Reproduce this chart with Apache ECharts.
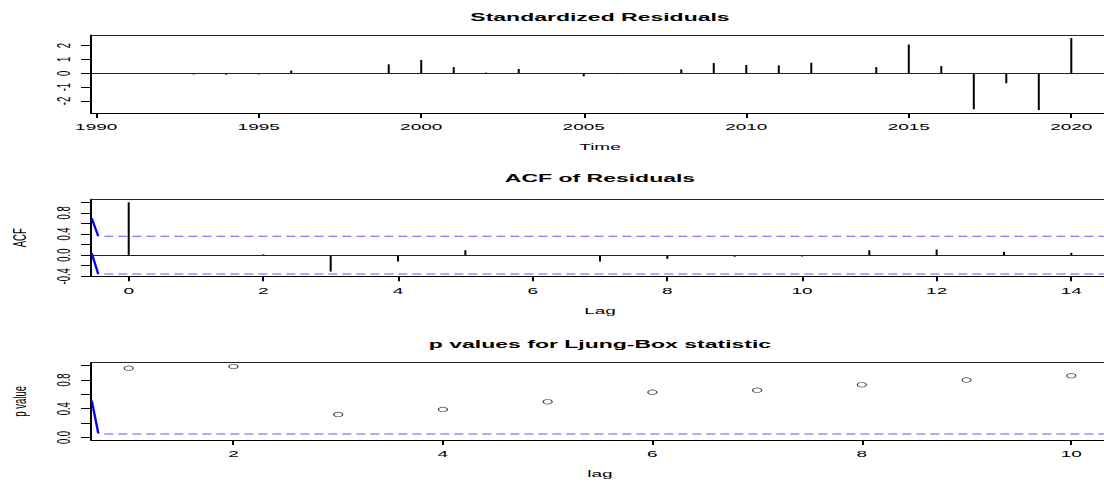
<!DOCTYPE html>
<html>
<head>
<meta charset="utf-8">
<script src="https://cdn.jsdelivr.net/npm/echarts@6/dist/echarts.min.js"></script>
<style>
html, body { margin: 0; padding: 0; background: #fff; overflow: hidden; width: 1104px; height: 482px; }
#wrap { width: 1104px; height: 482px; overflow: hidden; position: absolute; left: 0; top: 0; background: #fff; }
#chart { width: 580px; height: 482px; transform: scaleX(2); transform-origin: 0 0; }
</style>
</head>
<body>
<div id="wrap"><div id="chart"></div></div>
<script>
// ---------- data ----------
const years = [1991,1992,1993,1994,1995,1996,1997,1998,1999,2000,2001,2002,2003,2004,2005,2006,2007,2008,2009,2010,2011,2012,2013,2014,2015,2016,2017,2018,2019,2020];
const stdResiduals = [0.01,0.0,-0.08,-0.1,-0.08,0.2,0.0,0.01,0.65,0.96,0.45,0.05,0.31,-0.05,-0.22,-0.06,0.0,0.28,0.74,0.6,0.57,0.76,0.0,0.45,2.08,0.52,-2.6,-0.72,-2.66,2.55];
const timeTicks = [1990,1995,2000,2005,2010,2015,2020];
const residTicks = [-2,-1,0,1,2];

const acfLags = [0,1,2,3,4,5,6,7,8,9,10,11,12,13,14];
const acfValues = [1.0,-0.005,0.015,-0.31,-0.12,0.094,0.0,-0.12,-0.07,-0.03,-0.025,0.094,0.107,0.063,0.044];
const acfLagTicks = [0,2,4,6,8,10,12,14];
const acfTicks = [-0.4,-0.2,0,0.2,0.4,0.6,0.8,1.0];
const acfTickLabels = [-0.4,0,0.4,0.8];
const acfConfLimit = 0.358;
const acfBandFrom = -0.362;
const acfLeadUpper = [[-0.55, 0.70],[-0.452, 0.358]];
const acfLeadLower = [[-0.55, 0.038],[-0.452, -0.358]];

const lbLags = [1,2,3,4,5,6,7,8,9,10];
const lbPValues = [0.964,0.986,0.32,0.39,0.496,0.63,0.658,0.732,0.80,0.86];
const lbLagTicks = [2,4,6,8,10];
const pTicks = [0,0.2,0.4,0.6,0.8,1.0];
const pTickLabels = [0,0.4,0.8];
const pLevel = 0.05;
const pBandFrom = 0.767;
const pLead = [[0.647, 0.514],[0.71, 0.055]];

const titles = ['Standardized Residuals','ACF of Residuals','p values for Ljung-Box statistic'];

// ---------- layout / style ----------
const FONT = '"Liberation Sans", Arial, Helvetica, sans-serif';
const txt = { fontFamily: FONT, fontSize: 9.5, color: '#000' };
const GL = 45.5, GW = 509;
const grids = [
  { top: 35, height: 78 },
  { top: 199.3, height: 77 },
  { top: 362.7, height: 77.3 }
];
const xRanges = [[1989.84, 2021.16], [-0.56, 14.56], [0.64, 10.36]];
const yRanges = [[-2.87, 2.77], [-0.4, 1.057], [-0.035, 1.04]];

function fmt1(v){ return (Math.abs(v) < 1e-9 ? 0 : v).toFixed(1); }

function xAxisDef(i, ticks, name){
  return {
    type: 'value', gridIndex: i, position: 'bottom', min: xRanges[i][0], max: xRanges[i][1],
    name: name, nameLocation: 'middle', nameGap: 29, nameTextStyle: Object.assign({}, txt),
    axisLine: { show: true, onZero: false, lineStyle: { color: '#000', width: 1 } },
    axisTick: { show: true, length: 5, customValues: ticks, lineStyle: { color: '#000', width: 1 } },
    axisLabel: Object.assign({ customValues: ticks, margin: 9, formatter: v => String(v) }, txt),
    splitLine: { show: false }, splitArea: { show: false }
  };
}
function topFrameDef(i){
  return {
    type: 'value', gridIndex: i, position: 'top', min: xRanges[i][0], max: xRanges[i][1],
    axisLine: { show: true, onZero: false, lineStyle: { color: '#222', width: 1 } },
    axisTick: { show: false }, axisLabel: { show: false }, splitLine: { show: false }, splitArea: { show: false }
  };
}
function yAxisDef(i, ticks, labels, formatter, name){
  return {
    type: 'value', gridIndex: i, position: 'left', min: yRanges[i][0], max: yRanges[i][1],
    name: name || '', nameLocation: 'middle', nameGap: 31, nameRotate: 90, nameTextStyle: Object.assign({}, txt),
    axisLine: { show: true, onZero: false, lineStyle: { color: '#000', width: 1 } },
    axisTick: { show: true, length: 5, customValues: ticks, lineStyle: { color: '#000', width: 1 } },
    axisLabel: Object.assign({ customValues: labels, margin: 9, rotate: 90, formatter: formatter }, txt),
    splitLine: { show: false }, splitArea: { show: false }
  };
}

function stemRender(params, api){
  const x = api.value(0), v = api.value(1);
  const p0 = api.coord([x, 0]), p1 = api.coord([x, v]);
  return { type: 'line', shape: { x1: p0[0], y1: p0[1], x2: p1[0], y2: p1[1] },
           style: { stroke: '#000', lineWidth: 1 } };
}

const zeroLine = (i) => ({
  silent: true, symbol: ['none','none'], label: { show: false },
  lineStyle: { color: '#222', width: 1, type: 'solid' },
  data: [[{ coord: [xRanges[i][0], 0] }, { coord: [xRanges[i][1], 0] }]]
});

const dashStyle = { color: '#5a5aff', width: 1, type: [4.5, 2.5] };
const leadStyle = { color: '#0000ff', width: 1.2, type: 'solid' };

const option = {
  animation: false,
  backgroundColor: '#fff',
  grid: grids.map(g => ({ left: GL, width: GW, top: g.top, height: g.height, show: false,
    outerBoundsMode: 'none', containLabel: false })),
  xAxis: [
    xAxisDef(0, timeTicks, 'Time'),
    xAxisDef(1, acfLagTicks, 'Lag'),
    xAxisDef(2, lbLagTicks, 'lag'),
    topFrameDef(0), topFrameDef(1), topFrameDef(2)
  ],
  yAxis: [
    yAxisDef(0, residTicks, residTicks, v => String(v), ''),
    yAxisDef(1, acfTicks, acfTickLabels, fmt1, 'ACF'),
    yAxisDef(2, pTicks, pTickLabels, fmt1, 'p value')
  ],
  graphic: titles.map((t, i) => ({
    type: 'text', x: GL + GW / 2, y: [17, 178.3, 344.3][i], silent: true,
    style: { text: t, textAlign: 'center', textVerticalAlign: 'middle',
             font: 'bold 11.5px ' + FONT, fill: '#000' }
  })),
  series: [
    { type: 'custom', xAxisIndex: 0, yAxisIndex: 0, renderItem: stemRender,
      data: years.map((y, k) => [y, stdResiduals[k]]), markLine: zeroLine(0) },
    { type: 'custom', xAxisIndex: 1, yAxisIndex: 1, renderItem: stemRender,
      data: acfLags.map((l, k) => [l, acfValues[k]]), markLine: zeroLine(1) },
    { type: 'line', xAxisIndex: 1, yAxisIndex: 1, symbol: 'none', lineStyle: dashStyle, silent: true,
      data: [[acfBandFrom, acfConfLimit], [xRanges[1][1], acfConfLimit]] },
    { type: 'line', xAxisIndex: 1, yAxisIndex: 1, symbol: 'none', lineStyle: dashStyle, silent: true,
      data: [[acfBandFrom, -acfConfLimit], [xRanges[1][1], -acfConfLimit]] },
    { type: 'line', xAxisIndex: 1, yAxisIndex: 1, symbol: 'none', lineStyle: leadStyle, silent: true, data: acfLeadUpper },
    { type: 'line', xAxisIndex: 1, yAxisIndex: 1, symbol: 'none', lineStyle: leadStyle, silent: true, data: acfLeadLower },
    { type: 'line', xAxisIndex: 2, yAxisIndex: 2, symbol: 'none', lineStyle: dashStyle, silent: true,
      data: [[pBandFrom, pLevel], [xRanges[2][1], pLevel]] },
    { type: 'line', xAxisIndex: 2, yAxisIndex: 2, symbol: 'none', lineStyle: leadStyle, silent: true, data: pLead },
    { type: 'scatter', xAxisIndex: 2, yAxisIndex: 2, symbol: 'circle', symbolSize: 4.6,
      itemStyle: { color: '#fff', borderColor: '#000', borderWidth: 0.6 },
      data: lbLags.map((l, k) => [l, lbPValues[k]]) }
  ]
};

const chart = echarts.init(document.getElementById('chart'), null, { renderer: 'svg', width: 580, height: 482 });
chart.setOption(option);
</script>
</body>
</html>
